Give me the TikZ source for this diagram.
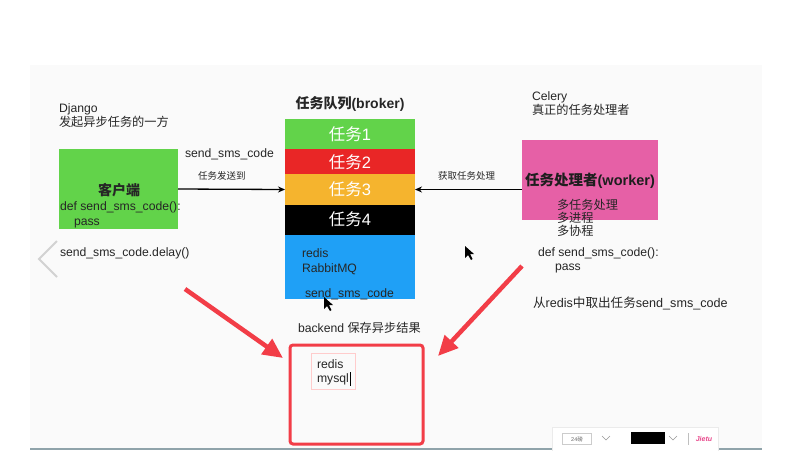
\documentclass[tikz,border=0pt]{standalone}
\usepackage{fontspec}
\setmainfont{Liberation Sans}
\newfontfamily\cjk{Noto Sans CJK SC}
\usetikzlibrary{arrows.meta}
\newcommand{\zh}[1]{{\cjk #1}}
\definecolor{panelgrey}{HTML}{FAFAFA}
\definecolor{qgreen}{HTML}{62D34A}
\definecolor{qred}{HTML}{E92626}
\definecolor{qorange}{HTML}{F5B42E}
\definecolor{qblue}{HTML}{1FA0F6}
\definecolor{wpink}{HTML}{E660A6}
\definecolor{arrowred}{HTML}{F23D47}
\definecolor{txt}{HTML}{262626}
\definecolor{chevgrey}{HTML}{D2D2D2}
\definecolor{jietu}{HTML}{E8468A}
\definecolor{bottomline}{HTML}{8FA3AA}
\begin{document}
\begin{tikzpicture}[x=1pt,y=-1pt,
  every node/.style={inner sep=0pt, outer sep=0pt},
  lbl/.style={anchor=west, text=txt, font=\fontsize{12.2}{13}\selectfont, text height=9pt, text depth=2.5pt},
  small/.style={anchor=west, text=txt, font=\fontsize{9.5}{11}\selectfont, text height=7pt, text depth=2pt},
  qbox/.style={minimum width=130pt},
  qtext/.style={text=white, font=\fontsize{16.5}{18}\selectfont},
  conn/.style={line width=1.3pt, -{Stealth[length=7pt,width=6pt]}},
  redarrow/.style={draw=arrowred, line width=4.5pt, -{Triangle[length=20pt,width=18pt]}}]
\useasboundingbox (0,0) rectangle (795,451);
\fill[white] (0,0) rectangle (795,451);
\fill[panelgrey] (30,65) rectangle (762,448);
\draw[bottomline, line width=1.5pt] (30,449) -- (762,449);
% left chevron
\draw[chevgrey, line width=1.8pt] (57,241) -- (39,259) -- (57,277);

% client side
\node[lbl] (django) at (59,109) {Django};
\node[lbl] (django2) at (59,123) {\zh{发起异步任务的一方}};
\node[fill=qgreen, minimum width=119pt, minimum height=80pt, anchor=north west] (client) at (59,149) {};
\node[text=txt, font=\fontsize{14}{16}\bfseries] (clientlbl) at (119,190) {\zh{客户端}};
\node[lbl] (cdef) at (60,207) {def send\_sms\_code():};
\node[lbl] (cpass) at (74,222) {pass};
\node[lbl] (delay) at (60,253) {send\_sms\_code.delay()};
\node[lbl] (sendlbl) at (185,154) {send\_sms\_code};
\node[small] (sendto) at (198,177) {\zh{任务发送到}};

% broker
\node[text=txt, font=\fontsize{14}{16}\bfseries] (brokertitle) at (350,104) {\zh{任务队列}(broker)};
\node[qbox, fill=qgreen, minimum height=30pt, anchor=north west] (q1) at (285,119) {};
\node[qbox, fill=qred, minimum height=25pt, anchor=north west] (q2) at (285,149) {};
\node[qbox, fill=qorange, minimum height=31pt, anchor=north west] (q3) at (285,174) {};
\node[qbox, fill=black, minimum height=30pt, anchor=north west] (q4) at (285,205) {};
\node[qbox, fill=qblue, minimum height=64pt, anchor=north west] (q5) at (285,235) {};
\node[qtext] (t1) at (350,134) {\zh{任务}1};
\node[qtext] (t2) at (350,162) {\zh{任务}2};
\node[qtext] (t3) at (350,189) {\zh{任务}3};
\node[qtext] (t4) at (350,219) {\zh{任务}4};
\node[lbl] (bredis) at (302,254) {redis};
\node[lbl] (brabbit) at (302,269) {RabbitMQ};
\node[lbl] (bsend) at (305,294) {send\_sms\_code};

% worker side
\node[lbl] (celery) at (532,97) {Celery};
\node[lbl] (celery2) at (532,111) {\zh{真正的任务处理者}};
\node[fill=wpink, minimum width=136pt, minimum height=80pt, anchor=north west] (worker) at (522,140) {};
\node[text=txt!80!black, font=\fontsize{14.5}{16}\bfseries] (workerlbl) at (590,181) {\zh{任务处理者}(worker)};
\node[lbl] (multi1) at (557,206) {\zh{多任务处理}};
\node[lbl] (multi2) at (557,219) {\zh{多进程}};
\node[lbl] (multi3) at (557,232) {\zh{多协程}};
\node[lbl] (wdef) at (538,253) {def send\_sms\_code():};
\node[lbl] (wpass) at (555,267) {pass};
\node[lbl, font=\fontsize{12.6}{13}\selectfont] (wfrom) at (533,304) {\zh{从}redis\zh{中取出任务}send\_sms\_code};
\node[small] (fetch) at (438,177) {\zh{获取任务处理}};

% connectors
\draw[conn] (client.east) -- (q3.west);
\draw[conn] (worker.west |- q3.east) -- (q3.east);

% backend
\node[lbl] (backendlbl) at (298,329) {backend \zh{保存异步结果}};
\node[draw=arrowred, line width=3pt, rounded corners=3pt, minimum width=133pt, minimum height=99pt, anchor=north west] (backend) at (290,345) {};
\node[draw=red!20, line width=0.6pt, minimum width=44pt, minimum height=36pt, anchor=north west] (inner) at (311,353) {};
\node[lbl] (iredis) at (317,365) {redis};
\node[lbl] (imysql) at (317,379) {mysql};
\draw[black, line width=0.8pt] (imysql.east) ++(1.5,-7) -- ++(0,14);

% red arrows
\coordinate (lt) at (185,289);
\coordinate (ltip) at (283,358);
\coordinate (rt) at (522,266);
\coordinate (rtip) at (438,356);
\draw[redarrow] (lt) -- (ltip);
\draw[redarrow] (rt) -- (rtip);

% mouse cursors
\fill[black] (465,246) -- (465,258) -- (468,255) -- (471,260) -- (472.5,259) -- (470,254) -- (474,254) -- cycle;
\fill[black] (324,297) -- (324,309) -- (327,306) -- (330,311) -- (331.5,310) -- (329,305) -- (333,305) -- cycle;

% toolbar
\fill[black!8] (552,427) rectangle (719,451);
\fill[white] (553,428) rectangle (718,451);
\node[draw=black!20, line width=0.4pt, minimum width=29pt, minimum height=11pt, font=\fontsize{5.5}{6}\selectfont, text=black!60] (size) at (577,439) {24\zh{磅}};
\draw[black!40, line width=0.6pt] (602,436) -- (606,440) -- (610,436);
\node[fill=black, minimum width=34pt, minimum height=12pt] (colorbox) at (648,438) {};
\draw[black!40, line width=0.6pt] (669,436) -- (673,440) -- (677,436);
\draw[black!25, line width=0.5pt] (688,433) -- (688,445);
\node[text=jietu, font=\fontsize{7}{8}\itshape\bfseries] (jietulbl) at (704,439) {Jietu};
\end{tikzpicture}
\end{document}
